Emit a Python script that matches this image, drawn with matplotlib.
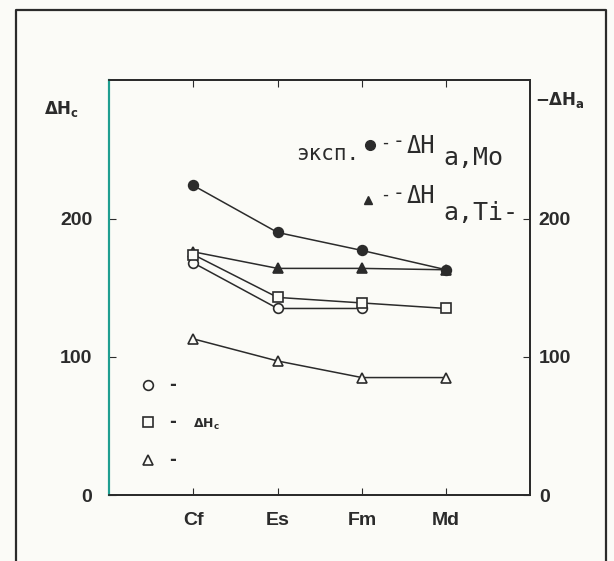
import matplotlib.pyplot as plt
from matplotlib.lines import Line2D

elements = ['Cf', 'Es', 'Fm', 'Md']
x = [1, 2, 3, 4]
mo_exp = [224, 190, 177, 163]      # filled circles, -dHa,Mo
ti_exp = [176, 164, 164, 163]      # filled triangles, -dHa,Ti
circ = [168, 135, 135]             # open circles
sq = [174, 143, 139, 135]          # open squares
tri = [113, 97, 85, 85]            # open triangles
yticks = [0, 100, 200]

bg = '#fbfbf7'
ink = '#2b2b2b'
teal = '#1f9e90'
W, H = 614, 561

def fx(px):
    return px / W

def fy(py):
    return 1 - py / H

fig = plt.figure(figsize=(6.14, 5.61), dpi=100, facecolor=bg)
ax = fig.add_axes([0.1775, 0.1176, 0.6865, 0.739], facecolor=bg)

kw = dict(color=ink, lw=1.1, ms=7, mew=1.2)
ax.plot(x, mo_exp, marker='o', mfc=ink, mec=ink, **kw)
ax.plot(x, ti_exp, marker='^', mfc=ink, mec=ink, **kw)
ax.plot(x[:3], circ, marker='o', mfc=bg, mec=ink, **kw)
ax.plot(x, sq, marker='s', mfc=bg, mec=ink, **kw)
ax.plot(x, tri, marker='^', mfc=bg, mec=ink, **kw)

ax.set_xlim(0, 5)
ax.set_ylim(0, 300)
ax.set_xticks(x)
ax.set_xticklabels(elements)
ax.set_yticks(yticks)
ax.tick_params(direction='in', length=5, color=ink, labelcolor=ink, top=True)
ax.tick_params(axis='x', pad=12)
ax.tick_params(axis='y', pad=12)

ax2 = ax.twinx()
ax2.set_ylim(0, 300)
ax2.set_yticks(yticks)
ax2.tick_params(direction='in', length=5, color=ink, labelcolor=ink, pad=6)

tick_font = dict(family='Liberation Sans', weight='bold', size=14)
for lab in ax.get_xticklabels() + ax.get_yticklabels() + ax2.get_yticklabels():
    lab.set(**tick_font)

for a in (ax, ax2):
    for s in ['top', 'right', 'bottom']:
        a.spines[s].set_color(ink)
        a.spines[s].set_linewidth(1.3)
    a.spines['left'].set_color(teal)
    a.spines['left'].set_linewidth(1.5)

# axis titles
fig.text(fx(62), fy(109), r'$\mathbf{\Delta H_c}$', ha='center', va='center',
         fontsize=12, color=ink)
fig.text(fx(560), fy(100), r'$\mathbf{-\Delta H_a}$', ha='center', va='center',
         fontsize=12, color=ink)

# experimental legend (typewriter)
mono = dict(family='DejaVu Sans Mono', color=ink)
fig.text(fx(296), fy(160), 'эксп.', ha='left', va='baseline', fontsize=15, **mono)
for mid, base, sub_base, sub in [(143, 153, 165, 'a,Mo'), (195, 203, 220, 'a,Ti-')]:
    fig.text(fx(385), fy(mid), '-', ha='center', va='center', fontsize=12, **mono)
    fig.text(fx(399), fy(mid - 1), '-', ha='center', va='center', fontsize=14, **mono)
    fig.text(fx(407), fy(base), 'ΔH', ha='left', va='baseline', fontsize=17, **mono)
    fig.text(fx(443), fy(sub_base), sub, ha='left', va='baseline', fontsize=18, **mono)
fig.add_artist(Line2D([fx(370)], [fy(145)], marker='o', ms=7, color=ink,
                      transform=fig.transFigure))
fig.add_artist(Line2D([fx(368)], [fy(200)], marker='^', ms=6, color=ink,
                      transform=fig.transFigure))

# calculated legend
for yy, m in [(385, 'o'), (422, 's'), (460, '^')]:
    fig.add_artist(Line2D([fx(148)], [fy(yy)], marker=m, ms=7, mfc=bg,
                          mec=ink, mew=1.2, transform=fig.transFigure))
    fig.text(fx(173), fy(yy), '-', ha='center', va='center', fontsize=12,
             fontweight='bold', color=ink)
fig.text(fx(193), fy(424), r'$\mathbf{\Delta H_c}$', ha='left', va='center',
         fontsize=9, color=ink)

# outer frame
fig.add_artist(Line2D([fx(16), fx(16), fx(606), fx(606)],
                      [0, fy(10), fy(10), 0], color=ink, lw=1.6,
                      transform=fig.transFigure))

fig.savefig('out.png', dpi=100, facecolor=bg)
